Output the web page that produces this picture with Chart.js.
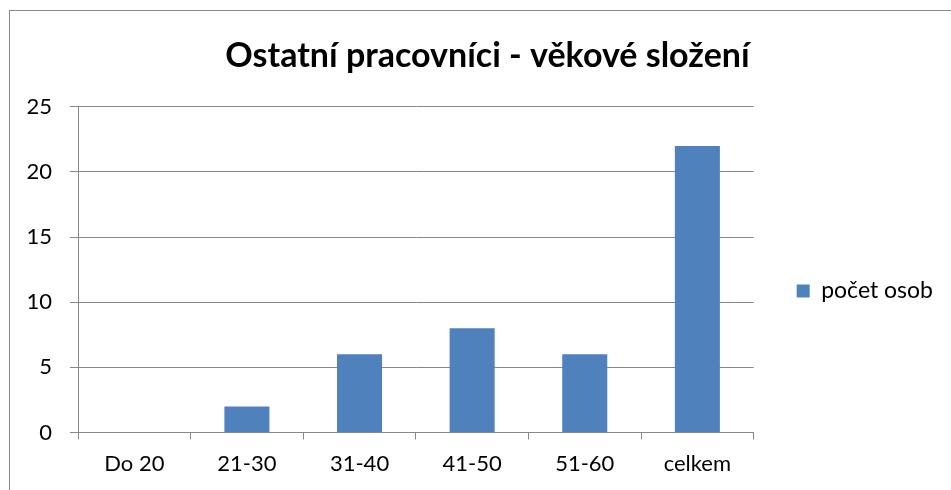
<!DOCTYPE html>
<html>
<head>
<meta charset="utf-8">
<script src="https://cdn.jsdelivr.net/npm/chart.js@4"></script>
<style>
  html, body { margin: 0; padding: 0; background: #fff; overflow: hidden; }
  #wrap { position: absolute; left: 9px; top: 10px; width: 954px; height: 480px; border: 1px solid #888; border-right: none; border-bottom: none; }
</style>
</head>
<body>
<div id="wrap"><canvas id="ageChart" width="954" height="480"></canvas></div>
<script>
// ================= DATA =================
const categories = ["Do 20", "21-30", "31-40", "41-50", "51-60", "celkem"];
const counts = [0, 2, 6, 8, 6, 22];
const seriesLabel = "počet osob";
const chartTitle = "Ostatní pracovníci - věkové složení";
const yMax = 25;
const yStep = 5;

const gridColor = "#878787";
const fontFamily = "Lato, 'Open Sans', sans-serif";

// title is centred on the whole chart frame, legend sits a bit below the middle
const nudge = {
  id: "nudge",
  afterLayout(chart) {
    const t = chart.titleBlock;
    t.left = 0;
    t.right = 955;
    t.width = 955;
    chart.legend.top += 40;
    chart.legend.bottom += 40;
  }
};

// ================= CHART =================
const ctx = document.getElementById("ageChart");

new Chart(ctx, {
  type: "bar",
  data: {
    labels: categories,
    datasets: [{
      label: seriesLabel,
      data: counts,
      backgroundColor: "#4f81bd",
      borderWidth: 0,
      barPercentage: 0.4,
      categoryPercentage: 1.0
    }]
  },
  options: {
    responsive: false,
    animation: false,
    layout: { padding: { left: 0, right: 21, top: 0, bottom: 0 } },
    plugins: {
      title: {
        display: true,
        text: chartTitle,
        color: "#000",
        font: { family: fontFamily, size: 34, weight: "bold" },
        padding: { top: 24.5, bottom: 30.5 }
      },
      legend: {
        position: "right",
        align: "center",
        labels: {
          boxWidth: 13,
          boxHeight: 13,
          padding: 43,
          color: "#000",
          font: { family: fontFamily, size: 23 }
        }
      },
      tooltip: { enabled: false }
    },
    scales: {
      x: {
        grid: { drawOnChartArea: false, drawTicks: true, tickLength: 7, color: gridColor, offset: true },
        border: { color: gridColor },
        ticks: { color: "#000", padding: 11, font: { family: fontFamily, size: 22 } },
        afterFit: s => { s.height = 58.5; }
      },
      y: {
        min: 0,
        max: yMax,
        grid: { color: gridColor, tickLength: 8 },
        border: { color: gridColor },
        ticks: { stepSize: yStep, color: "#000", padding: 18, font: { family: fontFamily, size: 22 } },
        afterFit: s => { s.width = 68; }
      }
    }
  },
  plugins: [nudge]
});
</script>
</body>
</html>
